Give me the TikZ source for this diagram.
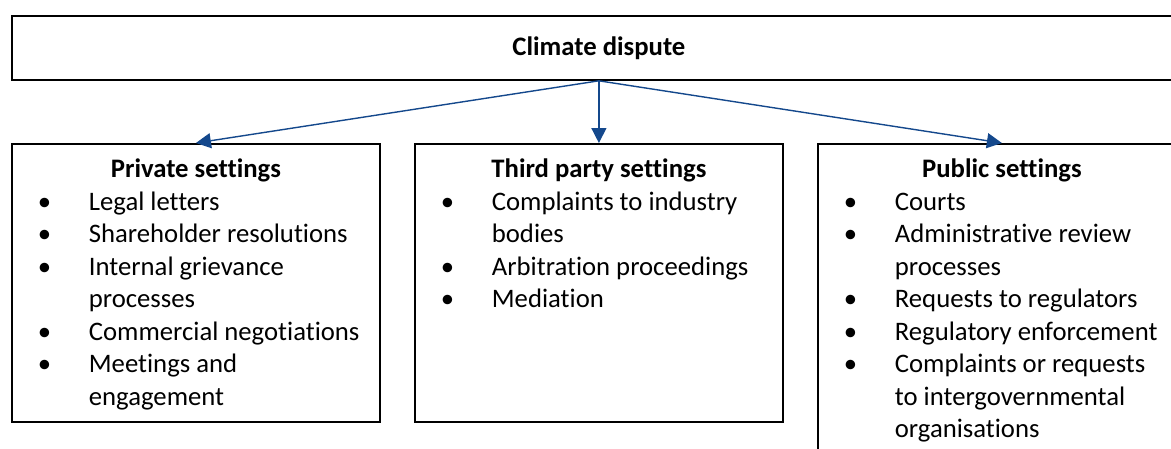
\documentclass[tikz,border=0pt]{standalone}
\usepackage{fontspec}
\setmainfont{Carlito}[Ligatures=NoCommon]
\usetikzlibrary{arrows.meta}

\definecolor{linkblue}{RGB}{20,72,140}

% one bulleted entry, wrapped lines hang under the text
\newcommand{\entry}[1]{\par\hangindent=77pt\hangafter=1\noindent\hspace*{26pt}\makebox[51pt][l]{\textbullet}#1}
% heading and list inside a box of given height
\newcommand{\setbody}[3]{\parbox[t][#1][t]{368pt}{\fontsize{26.7}{32.5}\selectfont
    \vspace*{11pt}\centering\strut\textbf{#2}\par\raggedright#3}}

\begin{document}
\begin{tikzpicture}[x=1pt,y=-1pt,
    frame/.style={draw=black,line width=1.8pt,inner sep=0pt,fill=white},
    link/.style={draw=linkblue,line width=1.4pt,-{Triangle[length=15pt,width=15pt]}}]
        \useasboundingbox (0,0) rectangle (1171,448);
        \node[frame,anchor=north west,minimum width=1174pt,minimum height=64pt,
          font=\fontsize{26.7}{30}\selectfont\bfseries] (dispute) at (11,15) {Climate dispute};
        \node[frame,anchor=north west] (private) at (11,143) {\setbody{278pt}{Private settings}{%
          \entry{Legal letters}
          \entry{Shareholder resolutions}
          \entry{Internal grievance\newline processes}
          \entry{Commercial negotiations}
          \entry{Meetings and\newline engagement}}};
        \node[frame,anchor=north west] (thirdparty) at (414,143) {\setbody{278pt}{Third party settings}{%
          \entry{Complaints to industry\newline bodies}
          \entry{Arbitration proceedings}
          \entry{Mediation}}};
        \node[frame,anchor=north west] (public) at (817,143) {\setbody{340pt}{Public settings}{%
          \entry{Courts}
          \entry{Administrative review\newline processes}
          \entry{Requests to regulators}
          \entry{Regulatory enforcement}
          \entry{Complaints or requests\newline to intergovernmental\newline organisations}}};
        \foreach \n in {private,thirdparty,public} {
          \draw[link] (dispute.south) -- (\n.north);
        }
      \end{tikzpicture}
\end{document}
